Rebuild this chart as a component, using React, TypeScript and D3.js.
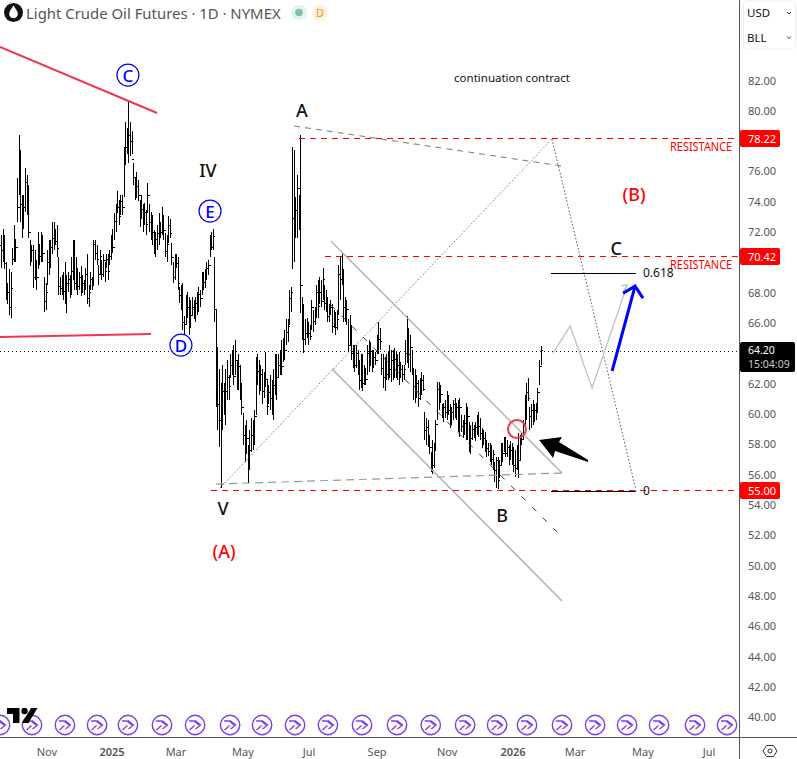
import React from "react";
import * as d3 from "d3";

const highs = [
71.8,72.2,71.8,70.0,68.6,69.5,69.3,70.9,72.4,71.45,75.5,78.4,77.4,74.4,74.4,76.2,75.7,75.1,71.45,71.1,
71.1,70.8,70.1,72.0,71.1,72.0,71.8,69.0,68.6,70.8,71.45,71.45,72.6,72.6,72.2,72.4,70.3,69.0,69.1,69.3,
70.0,69.1,69.3,69.1,70.3,71.45,71.45,70.3,69.6,69.3,69.7,69.1,68.8,69.6,70.5,68.5,69.3,69.0,71.45,71.45,
71.1,69.8,70.8,70.1,70.5,70.0,70.5,70.5,70.8,71.8,72.2,73.2,73.8,74.7,74.1,74.4,74.4,77.6,79.2,78.8,
80.7,79.2,78.6,76.5,75.5,75.9,75.4,74.1,74.4,73.8,73.9,73.4,75.2,73.8,73.3,73.1,72.1,72.0,72.4,73.2,
72.6,73.6,73.1,71.9,71.8,73.0,72.8,71.25,70.0,70.5,70.5,70.3,68.35,68.5,68.6,66.4,67.8,68.0,67.7,67.5,
67.7,67.5,67.7,68.0,68.35,68.15,69.3,69.3,69.5,70.0,70.1,71.8,72.0,72.2,70.3,66.8,64.4,62.9,62.0,63.2,
62.0,62.9,63.55,62.55,63.9,64.2,64.5,64.85,63.55,63.9,63.2,62.0,60.05,59.25,59.6,57.95,58.9,59.7,59.6,60.25,
63.75,63.9,63.55,63.2,62.9,62.75,64.05,62.2,61.9,62.55,62.2,62.9,63.9,63.9,63.9,64.2,64.85,65.0,65.5,66.2,
66.2,68.15,68.35,77.6,77.4,74.3,75.7,74.4,78.4,67.7,67.2,66.2,66.3,66.05,65.85,67.5,66.8,67.0,68.5,68.8,
69.0,68.8,69.6,68.5,68.15,67.7,67.2,67.5,67.2,66.8,66.7,66.8,69.8,70.3,70.5,69.5,67.7,67.5,66.2,66.5,
65.85,64.5,64.5,64.5,64.2,63.55,63.9,63.9,63.2,63.0,64.5,64.85,64.7,64.2,64.2,64.05,65.2,66.0,65.65,63.9,
63.9,63.7,63.9,64.05,64.5,64.2,64.2,64.3,64.05,63.9,64.05,63.4,63.2,63.2,64.85,66.4,65.65,65.2,64.2,63.0,
62.9,62.55,62.2,62.35,62.75,62.55,60.1,59.7,59.6,58.6,57.45,58.25,58.05,59.6,62.1,62.1,61.9,60.6,60.7,60.9,
61.45,61.2,60.6,60.45,60.9,61.0,60.7,60.9,61.0,59.9,59.6,59.9,60.7,60.45,59.45,59.25,59.45,59.25,59.45,59.9,
60.1,59.7,59.05,58.9,58.8,58.25,58.05,58.05,57.95,57.6,56.8,57.1,57.1,56.95,58.05,58.05,58.45,58.45,58.25,57.95,
58.15,58.05,57.8,57.6,57.95,58.7,58.6,58.7,59.6,61.2,62.0,62.35,60.4,60.6,60.9,60.6,60.7,61.7,63.55,64.45,
];
const lows = [
69.6,70.0,69.5,67.5,67.2,66.5,66.3,69.8,70.0,70.0,72.6,74.4,72.6,71.6,72.2,73.3,73.1,71.6,69.7,70.0,
68.3,68.8,68.15,69.5,69.8,70.0,70.0,66.7,66.8,68.5,69.1,69.6,70.5,70.8,71.1,70.3,67.8,67.8,67.8,67.5,
67.2,66.6,68.0,67.6,67.8,68.8,68.15,68.15,67.8,68.15,67.75,67.95,67.8,68.15,67.2,67.0,68.15,68.15,68.5,70.1,
69.8,68.5,69.1,68.8,69.0,68.7,69.6,68.8,69.8,70.1,70.6,71.45,72.0,73.2,72.4,73.1,73.1,74.3,76.4,77.1,
76.5,77.0,77.1,75.1,74.1,74.2,74.0,72.3,72.8,72.0,72.4,71.8,73.2,72.0,71.45,71.1,70.5,70.3,70.8,71.1,
71.6,71.8,71.45,70.3,70.0,71.25,71.6,69.8,68.6,68.8,69.6,68.15,67.3,66.8,65.5,65.2,65.85,66.3,65.2,65.65,
66.5,66.2,66.05,66.5,66.7,67.0,67.8,68.15,68.3,68.8,69.1,70.3,70.8,70.8,66.0,60.45,58.9,57.8,55.1,58.9,
59.9,59.25,60.9,60.9,62.35,62.55,61.9,62.55,61.55,61.55,60.9,59.9,57.95,56.8,57.3,55.4,56.3,57.45,57.6,57.95,
59.9,61.9,61.2,61.45,60.6,61.0,61.75,59.9,60.6,60.25,59.9,59.6,61.2,60.9,62.35,62.55,62.55,63.4,63.55,64.5,
64.7,65.85,66.7,69.5,70.0,71.6,71.6,72.1,66.6,64.85,64.0,64.5,65.0,64.5,64.85,65.5,65.4,65.85,66.3,66.3,
67.2,67.0,67.5,66.8,66.7,66.05,66.05,66.5,65.3,65.65,65.2,65.5,66.5,67.5,68.5,66.05,66.05,65.85,64.05,64.5,
63.55,63.0,62.75,63.0,62.55,61.55,61.7,61.45,61.9,61.9,62.55,62.75,63.2,62.75,63.0,63.2,63.9,63.9,64.2,62.55,
61.7,61.45,62.2,62.2,62.35,62.1,62.2,62.35,62.35,62.2,61.9,62.35,62.1,62.2,63.2,63.35,63.0,62.75,62.55,60.9,
60.7,61.0,60.4,60.9,61.2,61.45,58.25,57.95,57.8,57.3,56.15,56.0,56.4,57.6,59.6,60.25,60.7,59.7,59.45,59.7,
59.6,59.9,59.05,59.25,59.6,59.7,59.6,58.8,58.45,58.8,58.4,58.6,58.25,58.25,57.45,57.3,58.25,58.4,58.15,58.6,
58.45,58.25,57.7,57.95,57.45,57.1,57.2,56.8,56.6,56.3,55.5,55.1,55.0,55.75,56.6,56.8,57.45,57.1,57.1,56.6,
56.95,56.6,56.15,55.8,56.3,55.75,56.95,57.95,58.25,59.25,59.6,60.85,58.9,59.05,59.25,59.45,59.6,60.1,61.9,63.2,
];
const closes = [
70.8,71.0,69.9,68.4,68.0,67.0,68.3,70.2,71.5,71.0,73.6,77.0,73.8,72.5,73.6,75.3,74.0,72.0,70.3,70.8,
69.0,69.6,69.0,71.2,70.4,71.0,70.6,67.4,68.0,70.0,70.2,71.0,71.6,72.1,71.4,70.9,68.4,68.3,68.6,68.1,
68.0,68.6,68.9,68.3,69.4,71.2,68.6,69.0,68.4,69.0,68.3,68.6,68.3,69.2,67.6,68.0,68.9,68.5,71.2,70.6,
70.2,69.2,70.4,69.2,70.1,69.4,70.2,69.4,70.4,71.5,71.0,72.7,73.4,73.6,73.0,74.0,73.6,77.0,77.6,78.2,
78.4,78.0,76.8,75.6,74.8,75.0,74.4,73.0,73.5,72.6,73.3,72.5,74.4,72.6,72.3,72.0,71.0,71.5,71.9,72.6,
72.0,73.0,72.1,70.7,71.2,72.4,71.9,70.3,69.0,70.0,69.9,68.6,67.8,67.2,66.0,65.9,66.8,67.0,66.0,66.5,
67.0,66.8,67.3,67.6,67.9,67.6,68.9,68.7,69.1,69.6,69.8,71.3,71.0,71.7,66.9,61.9,60.6,59.6,59.8,61.5,
60.6,61.5,62.4,61.8,63.2,63.0,62.5,63.5,62.3,63.1,61.5,60.4,58.6,58.0,58.4,56.6,57.6,58.6,58.2,59.8,
62.9,62.8,62.2,62.6,61.5,62.2,62.3,60.5,61.4,61.0,60.7,61.9,62.6,62.4,63.2,63.5,63.1,64.4,64.2,65.4,
65.8,67.6,68.0,72.9,71.8,73.4,74.9,73.8,68.5,65.0,64.9,65.3,65.5,65.3,65.1,67.0,66.1,66.6,68.0,67.1,
68.0,67.4,68.9,67.3,67.6,66.4,66.9,67.0,65.8,66.3,65.7,66.2,69.2,68.9,69.3,67.0,66.6,66.9,64.5,65.6,
64.0,63.6,63.2,64.0,62.9,62.2,63.2,62.0,62.6,62.3,64.0,63.2,64.1,63.3,63.7,63.5,64.6,64.9,64.8,63.0,
62.4,63.0,62.6,63.5,62.9,63.5,62.8,63.6,62.8,63.2,62.4,62.9,62.6,62.9,64.0,65.5,63.9,64.4,63.0,61.8,
61.4,62.0,61.0,61.8,62.2,61.6,58.9,59.1,58.3,57.8,57.0,56.6,57.6,59.3,61.6,61.0,61.3,60.0,60.4,60.1,
60.9,60.2,59.6,60.1,60.6,60.0,60.4,59.3,60.4,59.2,59.1,59.4,59.0,59.8,58.0,58.4,59.0,58.8,59.1,59.4,
59.2,58.7,58.3,58.4,57.8,57.7,57.5,57.6,57.0,57.3,56.3,56.9,55.6,56.6,57.6,57.4,58.0,57.4,57.8,57.1,
57.6,57.2,56.6,56.4,57.4,56.9,58.2,58.3,59.3,60.4,61.4,61.0,59.8,60.2,59.6,60.2,60.1,61.4,63.1,64.2,
];

const priceTicks = [40,42,44,46,48,50,52,54,56,58,60,62,66,68,72,74,76,80,82];
const timeTicks: [string, number, boolean][] = [
  ["Nov",28.5,false],["2025",69.4,true],["Mar",109.6,false],["May",151.7,false],["Jul",193.2,false],["Sep",236,false],
  ["Nov",280,false],["2026",321.4,true],["Mar",360.4,false],["May",403.1,false],["Jul",444.6,false],
];
const rollovers = [-1,19.1,39.8,60,79.4,100.8,121.6,143.6,163.7,184.4,205.1,226.5,248.5,269.7,291.3,311.4,330.2,352.2,373,393.1,413.2,435.8,455.9];

// Drawings as [bar number, price]
type P = [number, number];
const redTrendUpper: P[] = [[-1,84.24],[97.7,79.89]];
const redTrendLower: P[] = [[-1,65.11],[93.9,65.31]];
const grayTop: P[] = [[183.8,79.03],[352.2,76.39]];
const grayBottom: P[] = [[134.8,55.41],[352.2,56.14]];
const dottedUp: P[] = [[137.3,55.15],[345.9,78.17]];
const dottedDown: P[] = [[345.9,78.17],[398.7,55]];
const fib618: P[] = [[345.3,69.27],[398.7,69.27]];
const fib0: P[] = [[345.3,54.95],[398.7,54.95]];
const channelUpper: P[] = [[207,71.44],[352.2,56.14]];
const channelLower: P[] = [[207.7,63],[352.2,47.7]];
const channelMid: P[] = [[207,67.22],[351,52.05]];
const zigzag: P[] = [[346.6,64.05],[357.3,65.84],[371.1,61.75],[393.1,68.54]];
const grayHead: P[] = [[389.5,68.5],[393.1,68.54],[390.6,68.08]];
const blueArrow: P[] = [[383.7,62.87],[398.1,68.47]];
const blueHead: P[] = [[390.6,68],[398.1,68.47],[403.1,67.68]];
const blackArrow: P[] = [[337.8,58.32],[352.2,58.51],[350.3,58.18],[368.6,57],[368.6,56.87],[347.8,57.59],[346.6,57.13]];
const levels = [
  { price: 78.22, from: 186.9 },
  { price: 70.42, from: 203.3 },
  { price: 55.0, from: 131.6 },
];
const lastPrice = 64.2;
const countdown = "15:04:09";
const circled: [string, number, number][] = [["C",79.4,82.39],["E",131,73.42],["D",112.7,64.58]];
const waveLabels: [string, number, number, string][] = [
  ["IV",129.7,76.13,"#111"],["A",188.8,80.08,"#111"],["V",139.2,53.83,"#111"],["B",314.5,53.37,"#111"],["C",386.2,70.98,"#111"],
  ["(A)",139.8,50.99,"#f00"],["(B)",397.5,74.54,"#f00"],
];
const resistance: P[] = [[459.1,77.58],[459.1,69.79]];
const redCircle: P = [323.9,59.04];

const FONT = "'Noto Sans', sans-serif";
const x = d3.scaleLinear().domain([0,339]).range([1.6,541]);
const y = d3.scaleLinear().domain([82,40]).range([81,717.7]);
const READ = 0.07;
const line = d3.line<P>().x(d=>x(d[0])).y(d=>y(d[1]));

function rollIcon(b:number,i:number){
  const cx=x(b);
  return <g key={i} transform={`translate(${cx},725)`} fill="none" stroke="#7c3cf0">
    <circle r={9.7} strokeWidth={1.4} fill="#fff"/>
    <path d="M-6,-4 L-1,-4 L4,0 M0,-4.5 L5.5,0 L0.5,4 M-5.5,5 L-0.5,0.5" strokeWidth={1.3}/>
  </g>;
}

export default function App(){
  const n=Math.min(highs.length,lows.length,closes.length);
  const bars=d3.range(n).map(i=>{
    const cx=Math.round(x(i)-0.5)+0.5;
    const yy=(p:number)=>Math.round(y(p+READ));
    const open=i>0?closes[i-1]:closes[0]+0.3;
    return <path key={i} d={`M${cx},${yy(highs[i])}V${yy(lows[i])}M${cx-1.5},${yy(open)+0.5}H${cx}M${cx},${yy(closes[i])+0.5}H${cx+1.5}`}/>;
  });
  return <svg width={797} height={759} style={{position:"absolute",left:0,top:0,background:"#fff"}} fontFamily={FONT}>
    <defs><clipPath id="pane"><rect x={0} y={0} width={739} height={737}/></clipPath></defs>

    <g clipPath="url(#pane)">
      {rollovers.map(rollIcon)}
      <line x1={0} x2={739} y1={Math.round(y(lastPrice))+0.5} y2={Math.round(y(lastPrice))+0.5} stroke="#111" strokeDasharray="1 3" shapeRendering="crispEdges"/>
      <g stroke="#000" strokeWidth={1} fill="none" shapeRendering="crispEdges">{bars}</g>
      <path d={line(redTrendUpper)!} stroke="#f2364c" strokeWidth={2} fill="none"/>
      <path d={line(redTrendLower)!} stroke="#f2364c" strokeWidth={2} fill="none"/>
      <path d={line(grayTop)!} stroke="#888" strokeWidth={1.1} strokeDasharray="6 5" fill="none"/>
      <path d={line(grayBottom)!} stroke="#999" strokeWidth={1.2} strokeDasharray="8 5" fill="none"/>
      <path d={line(dottedUp)!} stroke="#777" strokeWidth={1} strokeDasharray="1.5 2" fill="none"/>
      <path d={line(dottedDown)!} stroke="#555" strokeWidth={1} strokeDasharray="1.5 2" fill="none"/>
      <path d={line(channelUpper)!} stroke="#aaa" strokeWidth={1.3} fill="none"/>
      <path d={line(channelLower)!} stroke="#aaa" strokeWidth={1.3} fill="none"/>
      <path d={line(channelMid)!} stroke="#333" strokeWidth={1} strokeDasharray="6 9" fill="none"/>
      {levels.map(l=><line key={l.price} x1={x(l.from)} x2={739} y1={Math.floor(y(l.price))+0.5} y2={Math.floor(y(l.price))+0.5} stroke="#f00" strokeWidth={1} strokeDasharray="6 5" shapeRendering="crispEdges"/>)}
      {resistance.map((r,i)=><text key={i} x={x(r[0])} y={y(r[1])} textAnchor="end" dominantBaseline="middle" fontSize={12} textLength={62} lengthAdjust="spacingAndGlyphs" fill="#f00">RESISTANCE</text>)}
      <path d={line(fib618)!} stroke="#000" strokeWidth={1} fill="none" shapeRendering="crispEdges"/>
      <path d={line(fib0)!} stroke="#000" strokeWidth={1} fill="none" shapeRendering="crispEdges"/>
      <text x={x(403.1)} y={y(69.27)} dominantBaseline="middle" fontSize={12} fill="#111">0.618</text>
      <text x={x(403.1)} y={y(54.93)} dominantBaseline="middle" fontSize={12} fill="#111">0</text>
      <path d={line(zigzag)!} stroke="#bfc0ca" strokeWidth={1.3} fill="none"/>
      <path d={line(grayHead)!} stroke="#bfc0ca" strokeWidth={1.3} fill="none"/>
      <path d={line(blueArrow)!} stroke="#0000ff" strokeWidth={3} fill="none"/>
      <path d={line(blueHead)!} stroke="#0000ff" strokeWidth={3} fill="none"/>
      <path d={line(blackArrow)!+"Z"} fill="#000"/>
      <circle cx={x(redCircle[0])} cy={y(redCircle[1])} r={9} fill="none" stroke="#f2364c" strokeWidth={2}/>
      {circled.map(([t,b,p])=><g key={t} transform={`translate(${x(b)},${y(p)})`}>
        <circle r={11} fill="#fff" fillOpacity={0.6} stroke="#0000ff" strokeWidth={1.2}/>
        <text textAnchor="middle" dominantBaseline="central" fontSize={17} fontWeight={500} fill="#0000ff">{t}</text>
      </g>)}
      {waveLabels.map(([t,b,p,c],i)=><text key={i} x={x(b)} y={y(p)} textAnchor="middle" dominantBaseline="central" fontSize={18} fontWeight={500} fill={c}>{t}</text>)}
      <text x={x(320.8)} y={y(82.26)} textAnchor="middle" dominantBaseline="central" fontSize={11.5} fill="#111">continuation contract</text>
      <path d="M7,708H19.5V723H13V714H7Z M22,723 L31,708H37.5L28.5,723Z" fill="#000"/>
      <circle cx={24.5} cy={711} r={3.2} fill="#000"/>
    </g>

    <circle cx={13.5} cy={12.5} r={9.5} fill="#111"/>
    <path d="M13.5,5.5 C15.8,9 17.8,11.2 17.8,14 A4.3,4.3 0 0 1 9.2,14 C9.2,11.2 11.2,9 13.5,5.5Z" fill="#fff"/>
    <text x={26} y={12.5} dominantBaseline="central" fontSize={14.9} fill="#555">Light Crude Oil Futures · 1D · NYMEX</text>
    <circle cx={299} cy={12.5} r={8} fill="#e6f4ee"/>
    <circle cx={299} cy={12.5} r={3.8} fill="#7fbfa5"/>
    <circle cx={320} cy={12.5} r={8} fill="#fdf0dc"/>
    <text x={320} y={12.5} textAnchor="middle" dominantBaseline="central" fontSize={11} fill="#e8912d">D</text>

    <line x1={739.5} x2={739.5} y1={0} y2={759} stroke="#555"/>
    <line x1={0} x2={797} y1={737.5} y2={737.5} stroke="#555"/>
    {priceTicks.map(t=><text key={t} x={748} y={y(t)-1} dominantBaseline="central" fontSize={11} fill="#555">{t.toFixed(2)}</text>)}
    {timeTicks.map(([t,b,bold],i)=><text key={i} x={x(b)} y={751} textAnchor="middle" dominantBaseline="central" fontSize={11} fill="#555" fontWeight={bold?600:400}>{t}</text>)}
    {levels.map(l=><g key={l.price}>
      <rect x={740} y={Math.floor(y(l.price))-8} width={40} height={17} rx={2} fill="#f00"/>
      <text x={748} y={Math.floor(y(l.price))+0.5} dominantBaseline="central" fontSize={11} fill="#fff">{l.price.toFixed(2)}</text>
    </g>)}
    <rect x={740} y={342} width={55} height={30} rx={2} fill="#000"/>
    <text x={748} y={349.5} dominantBaseline="central" fontSize={10.5} fill="#fff">{lastPrice.toFixed(2)}</text>
    <text x={748} y={363.5} dominantBaseline="central" fontSize={10.5} fill="#ccc">{countdown}</text>
    <rect x={743.5} y={1} width={52} height={48} rx={4} fill="#fff" stroke="#eceff3"/>
    <text x={747} y={12.5} dominantBaseline="central" fontSize={11.5} fill="#111">USD</text>
    <text x={747} y={37} dominantBaseline="central" fontSize={11.5} fill="#111">BLL</text>
    <path d="M787,12 l2,2 l2,-2 M787,36.5 l2,2 l2,-2" stroke="#333" fill="none" strokeWidth={1}/>
    <path d="M763,751 L766.5,745.5 H773.5 L777,751 L773.5,756.5 H766.5 Z" fill="none" stroke="#333" strokeWidth={1}/>
    <circle cx={770} cy={751} r={2} fill="none" stroke="#333"/>
  </svg>;
}
